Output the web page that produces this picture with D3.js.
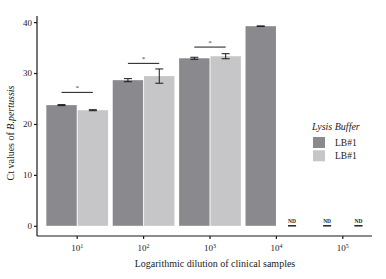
<!DOCTYPE html>
<html lang="en">
<head>
<meta charset="UTF-8">
<script src="https://d3js.org/d3.v7.min.js"></script>
<style>
  body { margin: 0; background: #fff; }
  text { font-family: "Liberation Serif", "DejaVu Serif", serif; fill: #222; }
</style>
</head>
<body>
<script>
// data
let dilutions = ["1", "2", "3", "4", "5"];          // exponent of 10
let buffers = ["LB#1 (a)", "LB#1 (b)"];
let legendLabels = ["LB#1", "LB#1"];
let lb1Mean = [23.7, 28.6, 32.9, 39.2, null];
let lb1Sd = [0.1, 0.3, 0.2, 0.05, null];
let lb2Mean = [22.7, 29.4, 33.3, null, null];
let lb2Sd = [0.1, 1.4, 0.5, null, null];
let sigGroups = ["1", "2", "3"];
let sigHeight = [26.2, 31.9, 35.1];
let yTicks = [0, 10, 20, 30, 40];

let w = 386, h = 279;
let colors = ["#8a8a8e", "#c6c6c8"];

let svg = d3.select("body").append("svg").attr("width", w).attr("height", h);

let x0 = d3.scaleBand().domain(dilutions).range([44, 376]).paddingInner(0.07).paddingOuter(0.035);
let x1 = d3.scaleBand().domain(buffers).range([0, x0.bandwidth()]).paddingInner(0.03);
let y = d3.scaleLinear().domain([-2, 41.2]).range([236, 16]);

let rows = [];
dilutions.forEach((d, i) => {
  rows.push({ dil: d, buf: buffers[0], mean: lb1Mean[i], sd: lb1Sd[i] });
  rows.push({ dil: d, buf: buffers[1], mean: lb2Mean[i], sd: lb2Sd[i] });
});

let g = svg.append("g");

// bars
g.selectAll("rect.bar").data(rows.filter(r => r.mean != null)).enter().append("rect")
  .attr("class", "bar")
  .attr("x", r => x0(r.dil) + x1(r.buf))
  .attr("width", x1.bandwidth())
  .attr("y", r => y(r.mean))
  .attr("height", r => y(0) - y(r.mean))
  .attr("fill", r => colors[buffers.indexOf(r.buf)]);

// error bars
let cx = r => x0(r.dil) + x1(r.buf) + x1.bandwidth() / 2;
let ew = 4;
let eb = g.selectAll("g.err").data(rows).enter().append("g").attr("class", "err")
  .attr("stroke", "#1a1a1a").attr("stroke-width", 1);
eb.append("line")
  .attr("x1", cx).attr("x2", cx)
  .attr("y1", r => y((r.mean || 0) - (r.sd || 0))).attr("y2", r => y((r.mean || 0) + (r.sd || 0)));
eb.append("line")
  .attr("x1", r => cx(r) - ew).attr("x2", r => cx(r) + ew)
  .attr("y1", r => y((r.mean || 0) + (r.sd || 0))).attr("y2", r => y((r.mean || 0) + (r.sd || 0)));
eb.append("line")
  .attr("x1", r => cx(r) - ew).attr("x2", r => cx(r) + ew)
  .attr("y1", r => y((r.mean || 0) - (r.sd || 0))).attr("y2", r => y((r.mean || 0) - (r.sd || 0)));

// ND labels
g.selectAll("text.nd").data(rows.filter(r => r.mean == null)).enter().append("text")
  .attr("class", "nd")
  .attr("x", cx).attr("y", y(0) - 3)
  .attr("text-anchor", "middle")
  .attr("font-size", "5.5px").attr("font-weight", "bold")
  .text("ND");

// significance brackets
sigGroups.forEach((d, i) => {
  let xa = x0(d) + x1(buffers[0]) + x1.bandwidth() / 2;
  let xb = x0(d) + x1(buffers[1]) + x1.bandwidth() / 2;
  g.append("line").attr("x1", xa).attr("x2", xb)
    .attr("y1", y(sigHeight[i])).attr("y2", y(sigHeight[i]))
    .attr("stroke", "#1a1a1a").attr("stroke-width", 1);
  g.append("text").attr("x", (xa + xb) / 2).attr("y", y(sigHeight[i]) - 2)
    .attr("text-anchor", "middle").attr("font-size", "7px")
    .style("fill", "#20406a").text("*");
});

// axes
let yAxis = g.append("g").attr("transform", "translate(37,0)")
  .call(d3.axisLeft(y).tickValues(yTicks).tickSize(3).tickPadding(2));
yAxis.select(".domain").attr("d", "M0,16V236");
yAxis.selectAll("text").attr("font-size", "9px").style("font-family", "Liberation Serif, serif");

let xAxis = g.append("g").attr("transform", "translate(0,236)")
  .call(d3.axisBottom(x0).tickSize(3).tickPadding(3).tickFormat(""));
xAxis.select(".domain").attr("d", "M37,0H372");
xAxis.selectAll(".tick").append("text")
  .attr("y", 15).attr("text-anchor", "middle").attr("font-size", "9px").attr("fill", "#222")
  .style("font-family", "Liberation Serif, serif")
  .each(function (d) {
    let t = d3.select(this);
    t.append("tspan").text("10");
    t.append("tspan").attr("dy", -3.5).attr("font-size", "6px").text(d);
  });
svg.selectAll(".domain, .tick line").attr("stroke", "#1a1a1a").attr("stroke-width", 1.2);

// axis titles
svg.append("text").attr("x", 215).attr("y", 267).attr("text-anchor", "middle")
  .attr("font-size", "10px").text("Logarithmic dilution of clinical samples");
let yt = svg.append("text").attr("transform", "translate(14,133) rotate(-90)")
  .attr("text-anchor", "middle").attr("font-size", "10px");
yt.append("tspan").text("Ct values of ");
yt.append("tspan").attr("font-style", "italic").text("B.pertussis");

// legend
let lg = svg.append("g").attr("transform", "translate(312,0)");
lg.append("text").attr("x", 0).attr("y", 130).attr("font-size", "10px")
  .attr("font-style", "italic").text("Lysis Buffer");
legendLabels.forEach((l, i) => {
  lg.append("rect").attr("x", 1).attr("y", 137 + i * 13.3).attr("width", 12).attr("height", 11)
    .attr("fill", colors[i]);
  lg.append("text").attr("x", 23).attr("y", 146 + i * 13.3).attr("font-size", "9.5px").text(l);
});
</script>
</body>
</html>
